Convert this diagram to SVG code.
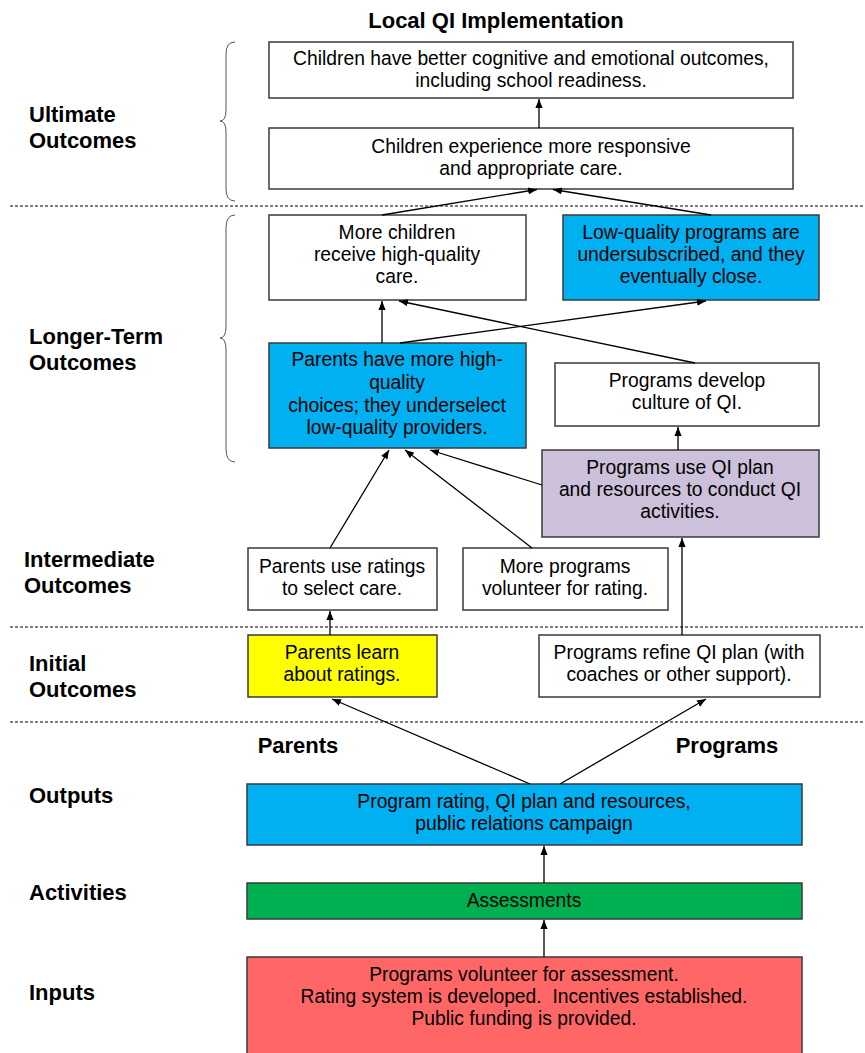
<svg xmlns="http://www.w3.org/2000/svg" width="865" height="1053" viewBox="0 0 865 1053">
<defs>
<marker id="ah" viewBox="0 0 10 10" refX="10" refY="5" markerWidth="9" markerHeight="9" markerUnits="userSpaceOnUse" orient="auto">
<path d="M0,1 L10,5 L0,9 Z" fill="#000"/>
</marker>
<style>
.box{stroke:#3a3a3a;stroke-width:1.5}
.w{fill:#fff}.b{fill:#00b0f0}.p{fill:#ccc0da}.y{fill:#ffff00}.g{fill:#00b050}.r{fill:#ff6666}
.t{font-family:"Liberation Sans",Arial,sans-serif;font-size:19.3px;fill:#000;text-anchor:middle}
.lab{font-family:"Liberation Sans",Arial,sans-serif;font-size:22px;font-weight:bold;fill:#000}
.dash{stroke:#555;stroke-width:1.3;stroke-dasharray:3,2;fill:none}
.brace{stroke:#555;stroke-width:1;fill:none}
.c{stroke:#000;stroke-width:1.3;fill:none;marker-end:url(#ah)}
</style>
</defs>
<rect width="865" height="1053" fill="#fff"/>
<text class="lab" x="496" y="28" text-anchor="middle">Local QI Implementation</text>
<g id="labels">
<text class="lab" x="29" y="122">Ultimate</text>
<text class="lab" x="29" y="148">Outcomes</text>
<text class="lab" x="29" y="344">Longer-Term</text>
<text class="lab" x="29" y="370">Outcomes</text>
<text class="lab" x="24" y="567">Intermediate</text>
<text class="lab" x="24" y="593">Outcomes</text>
<text class="lab" x="29" y="671">Initial</text>
<text class="lab" x="29" y="697">Outcomes</text>
<text class="lab" x="29" y="803">Outputs</text>
<text class="lab" x="29" y="900">Activities</text>
<text class="lab" x="29" y="1000">Inputs</text>
<text class="lab" x="298" y="753" text-anchor="middle">Parents</text>
<text class="lab" x="727" y="753" text-anchor="middle">Programs</text>
</g>
<g id="dividers">
<line class="dash" x1="10" y1="206" x2="865" y2="206"/>
<line class="dash" x1="10" y1="627" x2="865" y2="627"/>
<line class="dash" x1="10" y1="722" x2="865" y2="722"/>
<path class="brace" d="M235,42 Q226,42 226,54 L226,110 Q226,121 220,121 Q226,121 226,132 L226,189 Q226,201 235,201"/>
<path class="brace" d="M235,215 Q226,215 226,228 L226,326 Q226,338 220,338 Q226,338 226,350 L226,449 Q226,462 235,462"/>
</g>
<g id="n1"><rect class="box w" x="269" y="42" width="524" height="56"/>
<text class="t" x="531" y="65">Children have better cognitive and emotional outcomes,</text>
<text class="t" x="531" y="87">including school readiness.</text></g>
<g id="n2"><rect class="box w" x="269" y="128" width="524" height="61"/>
<text class="t" x="531" y="153">Children experience more responsive</text>
<text class="t" x="531" y="175">and appropriate care.</text></g>
<g id="n3"><rect class="box w" x="269" y="215" width="257" height="85"/>
<text class="t" x="397" y="239">More children</text>
<text class="t" x="397" y="261">receive high-quality</text>
<text class="t" x="397" y="283">care.</text></g>
<g id="n4"><rect class="box b" x="563" y="215" width="256" height="85"/>
<text class="t" x="691" y="239">Low-quality programs are</text>
<text class="t" x="691" y="261">undersubscribed, and they</text>
<text class="t" x="691" y="283">eventually close.</text></g>
<g id="n5"><rect class="box b" x="269" y="343" width="257" height="105"/>
<text class="t" x="397" y="366">Parents have more high-</text>
<text class="t" x="397" y="389">quality</text>
<text class="t" x="397" y="412">choices; they underselect</text>
<text class="t" x="397" y="434">low-quality providers.</text></g>
<g id="n6"><rect class="box w" x="555" y="363" width="264" height="63"/>
<text class="t" x="687" y="387">Programs develop</text>
<text class="t" x="687" y="409">culture of QI.</text></g>
<g id="n7"><rect class="box p" x="542" y="450" width="277" height="87"/>
<text class="t" x="680" y="474">Programs use QI plan</text>
<text class="t" x="680" y="496">and resources to conduct QI</text>
<text class="t" x="680" y="518">activities.</text></g>
<g id="n8"><rect class="box w" x="248" y="548" width="189" height="62"/>
<text class="t" x="342" y="573">Parents use ratings</text>
<text class="t" x="342" y="595">to select care.</text></g>
<g id="n9"><rect class="box w" x="463" y="548" width="205" height="62"/>
<text class="t" x="565" y="573">More programs</text>
<text class="t" x="565" y="595">volunteer for rating.</text></g>
<g id="n10"><rect class="box y" x="248" y="635" width="189" height="62"/>
<text class="t" x="342" y="659">Parents learn</text>
<text class="t" x="342" y="681">about ratings.</text></g>
<g id="n11"><rect class="box w" x="539" y="635" width="281" height="62"/>
<text class="t" x="679" y="659">Programs refine QI plan (with</text>
<text class="t" x="679" y="681">coaches or other support).</text></g>
<g id="n12"><rect class="box b" x="247" y="784" width="555" height="61"/>
<text class="t" x="524" y="808">Program rating, QI plan and resources,</text>
<text class="t" x="524" y="830">public relations campaign</text></g>
<g id="n13"><rect class="box g" x="247" y="883" width="555" height="36"/>
<text class="t" x="524" y="907">Assessments</text></g>
<g id="n14"><rect class="box r" x="247" y="957" width="555" height="100"/>
<text class="t" x="524" y="981">Programs volunteer for assessment.</text>
<text class="t" x="524" y="1003" style="white-space:pre">Rating system is developed.  Incentives established.</text>
<text class="t" x="524" y="1025">Public funding is provided.</text></g>
<g id="connectors">
<line class="c" x1="539" y1="128" x2="539" y2="99"/>
<line class="c" x1="382" y1="215" x2="537" y2="189.5"/>
<line class="c" x1="711" y1="215" x2="553" y2="189.5"/>
<line class="c" x1="382" y1="343" x2="382" y2="301"/>
<line class="c" x1="400" y1="343" x2="706" y2="301"/>
<line class="c" x1="695" y1="363" x2="399" y2="301"/>
<line class="c" x1="678" y1="450" x2="678" y2="427"/>
<line class="c" x1="542" y1="485" x2="430" y2="450"/>
<line class="c" x1="330" y1="548" x2="389" y2="450"/>
<line class="c" x1="532" y1="548" x2="405" y2="450"/>
<line class="c" x1="330" y1="635" x2="330" y2="611"/>
<line class="c" x1="682" y1="635" x2="682" y2="538"/>
<line class="c" x1="530" y1="784" x2="332" y2="699"/>
<line class="c" x1="560" y1="784" x2="706" y2="699"/>
<line class="c" x1="544" y1="883" x2="544" y2="846"/>
<line class="c" x1="544" y1="957" x2="544" y2="920"/>
</g>
</svg>
